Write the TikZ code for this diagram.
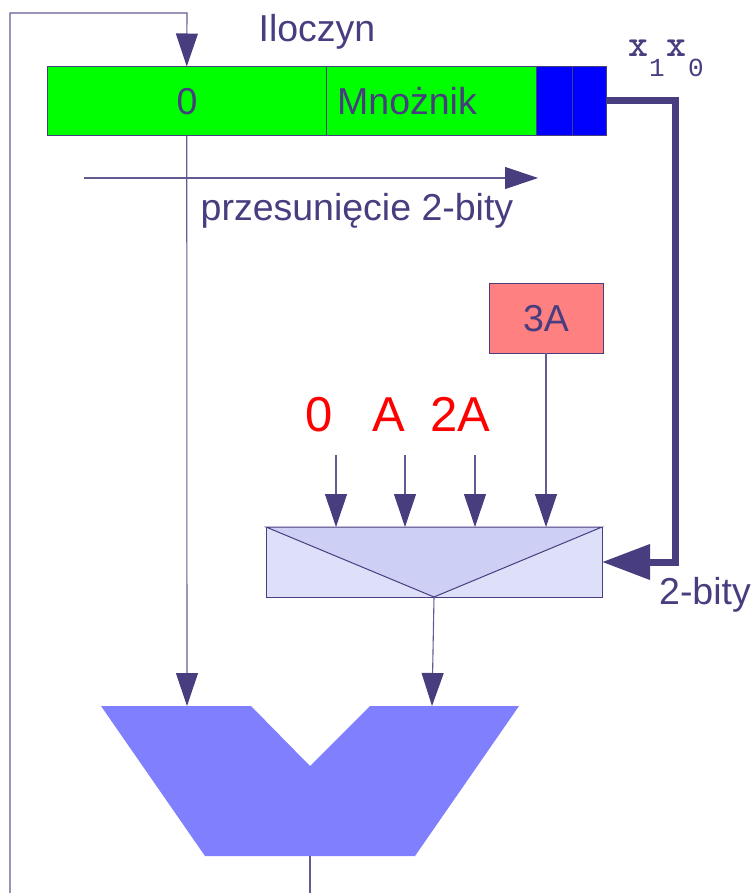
\documentclass[tikz,border=0pt]{standalone}
\usepackage{fontspec}
\setmainfont{Liberation Sans}
\newfontfamily\codefont{Liberation Mono}
\usepackage{xcolor}
\usetikzlibrary{arrows.meta, positioning, calc}
\definecolor{ink}{HTML}{483D7F}
\definecolor{regGreen}{HTML}{00FF00}
\definecolor{regBlue}{HTML}{0000FF}
\definecolor{aluBlue}{HTML}{8080FF}
\definecolor{muxLight}{HTML}{DEDFF9}
\definecolor{muxDark}{HTML}{CDCFF5}
\definecolor{tripleRed}{HTML}{FF8080}

\begin{document}
\begin{tikzpicture}[x=1pt, y=-1pt,
        wire/.style={ink!85, line width=1.1pt},
        wirearrow/.style={wire, -{Triangle[length=33pt, width=22pt, color=ink]}, shorten >=0pt},
        busarrow/.style={ink, line width=7pt, -{Triangle[length=48pt, width=34pt, color=ink]}},
        reg/.style={draw=ink, line width=0.8pt, minimum height=69pt, inner sep=0pt, outer sep=0pt},
        txt/.style={text=ink, inner sep=0pt, anchor=base, font=\fontsize{37.5}{40}\selectfont},
        val/.style={text=red, inner sep=0pt, anchor=base, font=\fontsize{49}{52}\selectfont},
        sel/.style={text=ink, inner sep=0pt, anchor=base, font=\ttfamily\bfseries\fontsize{38}{40}\selectfont},
        selsub/.style={text=ink, inner sep=0pt, anchor=base, font=\codefont\fontsize{26}{28}\selectfont}]
    \useasboundingbox (0,0) rectangle (753,893);
    \node[reg, fill=regGreen, minimum width=279.5pt] (zero) at (186.75,101) {};
    \node[reg, fill=regGreen, minimum width=209.5pt] (mnoznik) at (431.25,101) {};
    \node[reg, fill=regBlue, minimum width=36pt] (x1) at (554,101) {};
    \node[reg, fill=regBlue, minimum width=34pt] (x0) at (589,101) {};
    \node[txt] (zerotxt) at (187,115) {0};
    \node[txt] (mnozniktxt) at (407,115) {Mnożnik};
    \node[txt] (iloczyn) at (317,42) {Iloczyn};
    \node[txt] (shift) at (357,221) {przesunięcie 2-bity};
    \node[sel] (xa) at (638,57) {x};
    \node[selsub] (xasub) at (657,77) {1};
    \node[sel] (xb) at (676.5,57) {x};
    \node[selsub] (xbsub) at (696,77) {0};

    \node[draw=ink, line width=1pt, fill=tripleRed, minimum width=114pt, minimum height=70pt, inner sep=0pt, outer sep=0pt] (triple) at (546,318) {};
    \node[txt] (tripletxt) at (546,331) {3A};
    \node[val] (v0) at (319,431.5) {0};
    \node[val] (v1) at (389,431.5) {A};
    \node[val] (v2) at (460.5,431.5) {2A};

    \node[draw=ink, line width=1pt, fill=muxLight, minimum width=336pt, minimum height=70pt, inner sep=0pt, outer sep=0pt] (mux) at (434,562) {};
    \draw[ink, line width=1pt, fill=muxDark] (mux.north west) -- (mux.north east) -- (mux.south) -- cycle;
    \node[txt] (bits) at (705,604) {2-bity};

    \coordinate (in0) at (336,455);
    \coordinate (in1) at (405,455);
    \coordinate (in2) at (475,455);
    \foreach \n in {in0, in1, in2}
        \draw[wirearrow] (\n) -- (\n |- mux.north);
    \draw[wirearrow] (triple.south) -- (triple.south |- mux.north);

    \coordinate (busturn) at (675,101);
    \draw[busarrow] (x0.east) -- (busturn) -- (busturn |- mux.east) -- (mux.east);

    \coordinate (shiftstart) at (84,178);
    \coordinate (shiftend) at (538,178);
    \draw[wirearrow] (shiftstart) -- (shiftend);

    \coordinate (alua) at (187,706);
    \coordinate (alub) at (432,706);
    \coordinate (aluout) at (310,856);
    \coordinate (loopstart) at (310,893);
    \fill[aluBlue] (101,706) -- (251,706) -- (310,766) -- (370,706) -- (519,706) -- (415,856) -- (205,856) -- cycle;
    \draw[wirearrow] (zero.south) -- (alua);
    \draw[wirearrow] (mux.south) -- (alub);
    \draw[wire] (aluout) -- (loopstart);

    \coordinate (loopa) at (10,893);
    \coordinate (loopb) at (10,13);
    \coordinate (loopc) at (187,13);
    \draw[wirearrow] (loopa) -- (loopb) -- (loopc) -- (zero.north);
\end{tikzpicture}
\end{document}
